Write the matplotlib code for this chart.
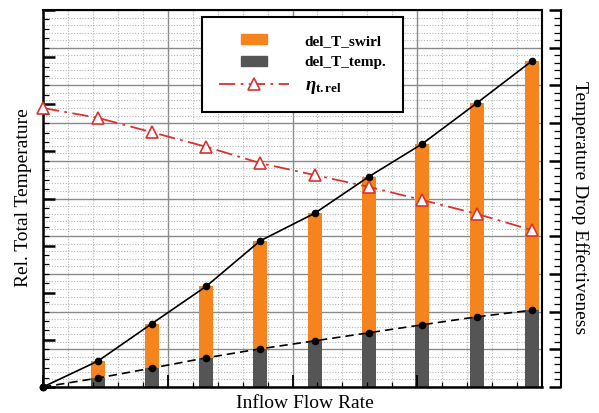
import matplotlib
matplotlib.use("Agg")
import matplotlib.pyplot as plt
from matplotlib.patches import Rectangle
from matplotlib.legend_handler import HandlerPatch
from matplotlib.ticker import MultipleLocator

plt.rcParams["font.family"] = ["Liberation Serif", "DejaVu Serif"]
plt.rcParams["mathtext.fontset"] = "custom"
plt.rcParams["mathtext.rm"] = "Liberation Serif"
plt.rcParams["mathtext.it"] = "Liberation Serif:italic"
plt.rcParams["mathtext.bf"] = "Liberation Serif:bold"
plt.rcParams["mathtext.bfit"] = "Liberation Serif:bold:italic"

# ------------------------
# Data
# ------------------------
flow = [0.0, 0.44, 0.87, 1.31, 1.74, 2.18, 2.61, 3.04, 3.48, 3.92]
dT_total = [0.0, 0.55, 1.34, 2.14, 3.10, 3.69, 4.46, 5.16, 6.03, 6.92]
dT_temp = [0.0, 0.19, 0.40, 0.62, 0.81, 0.98, 1.15, 1.32, 1.49, 1.63]
eta_rel = [7.40, 7.14, 6.76, 6.37, 5.94, 5.62, 5.31, 4.96, 4.59, 4.16]

labels = ["del_T_swirl", "del_T_temp.", r"$\mathbfit{\eta}_{\mathbf{t.rel}}$"]

ORANGE = "#f5841f"
GREY = "#555555"
RED = "#d8332f"

fig = plt.figure(figsize=(5.99, 4.13), dpi=100)
rect = [43 / 599, 26 / 413, 499 / 599, 377 / 413]

# right axis (grid lives here, drawn at the back)
ax2 = fig.add_axes(rect, zorder=0)
# left axis (bars + total lines)
ax = fig.add_axes(rect, sharex=ax2, zorder=1)
ax.patch.set_visible(False)
# top layer for the effectiveness curve
ax3 = fig.add_axes(rect, sharex=ax2, sharey=ax2, zorder=2)
ax3.set_axis_off()

ax2.set_xlim(0, 4)
ax2.set_ylim(0, 10)
ax.set_ylim(0, 8)

ax2.xaxis.set_major_locator(MultipleLocator(1))
ax2.xaxis.set_minor_locator(MultipleLocator(0.2))
ax2.yaxis.set_major_locator(MultipleLocator(1))
ax2.yaxis.set_minor_locator(MultipleLocator(0.2))
ax.yaxis.set_major_locator(MultipleLocator(1))
ax.yaxis.set_minor_locator(MultipleLocator(0.2))

# grid
ax2.grid(which="major", color="#8a8a8a", lw=1.0, ls="-")
ax2.grid(which="minor", color="#b4b4b4", lw=0.8, ls=(0, (1, 1.5)))

# right axis styling
ax2.yaxis.tick_right()
ax2.spines["right"].set_position(("outward", 14))
ax2.spines["right"].set_linewidth(1.5)
for s in ["left", "top", "bottom"]:
    ax2.spines[s].set_visible(False)
ax2.tick_params(axis="y", which="both", direction="in", labelright=False, left=False)
ax2.tick_params(axis="y", which="major", length=8.6, width=1.8)
ax2.tick_params(axis="y", which="minor", length=5, width=0.9)
ax2.tick_params(axis="x", which="both", bottom=False, top=False, labelbottom=False)

# left axis styling
ax.tick_params(which="both", direction="in", labelleft=False, labelbottom=False,
               right=False, top=False)
ax.tick_params(axis="y", which="major", length=8.6, width=1.8)
ax.tick_params(axis="y", which="minor", length=4.3, width=0.9)
ax.tick_params(axis="x", which="major", length=8.6, width=1.3)
ax.tick_params(axis="x", which="minor", length=3.5, width=0.9)
ax.spines["left"].set_linewidth(1.8)
ax.spines["bottom"].set_linewidth(1.8)
ax.spines["top"].set_linewidth(1.5)
ax.spines["right"].set_linewidth(1.5)

# ------------------------
# Bars
# ------------------------
bw = 0.112
swirl_h = [t - p for t, p in zip(dT_total, dT_temp)]
ax.bar(flow, dT_temp, width=bw, color=GREY, zorder=1)
ax.bar(flow, swirl_h, bottom=dT_temp, width=bw, color=ORANGE, zorder=1)

ax.plot(flow, dT_total, "-", color="black", lw=1.2, marker="o", ms=4.5,
        zorder=3, clip_on=False)
ax.plot(flow, dT_temp, "--", color="black", lw=1.2, marker="o", ms=4.5,
        zorder=3, clip_on=False, dashes=(5, 3))

eta_line, = ax3.plot(flow, eta_rel, color=RED, lw=1.3, ls=(0, (9, 3, 1.5, 3)),
                     marker="^", ms=9, mfc="white", mec=RED, mew=1.2,
                     clip_on=False, zorder=4)

# ------------------------
# Labels
# ------------------------
fig.text(24 / 599, 1 - 198 / 413, "Rel. Total Temperature", rotation=90,
         ha="center", va="center", fontsize=14)
fig.text(580 / 599, 1 - 208 / 413, "Temperature Drop Effectiveness", rotation=270,
         ha="center", va="center", fontsize=14)
fig.text(305 / 599, 1 - 404 / 413, "Inflow Flow Rate",
         ha="center", va="center", fontsize=14)

# ------------------------
# Legend
# ------------------------
def small_rect(legend, orig_handle, xdescent, ydescent, width, height, fontsize):
    w = 0.36 * width
    h = 0.95 * height
    return Rectangle((-xdescent + (width - w) / 2, -ydescent + (height - h) / 2), w, h)


h_swirl = Rectangle((0, 0), 1, 1, color=ORANGE)
h_temp = Rectangle((0, 0), 1, 1, color=GREY)

leg = ax3.legend([h_swirl, h_temp, eta_line], labels,
                 loc="upper left", bbox_to_anchor=(0.319, 0.981),
                 prop=dict(family="Liberation Serif", weight="bold", size=11),
                 frameon=True, fancybox=False, edgecolor="black", framealpha=1,
                 handlelength=4.6, handletextpad=1.0, borderpad=1.1,
                 labelspacing=0.5, borderaxespad=0,
                 handler_map={Rectangle: HandlerPatch(patch_func=small_rect)})
leg.get_frame().set_linewidth(1.5)
leg.get_texts()[2].set_fontsize(13.5)

plt.savefig("out.png", dpi=100)
